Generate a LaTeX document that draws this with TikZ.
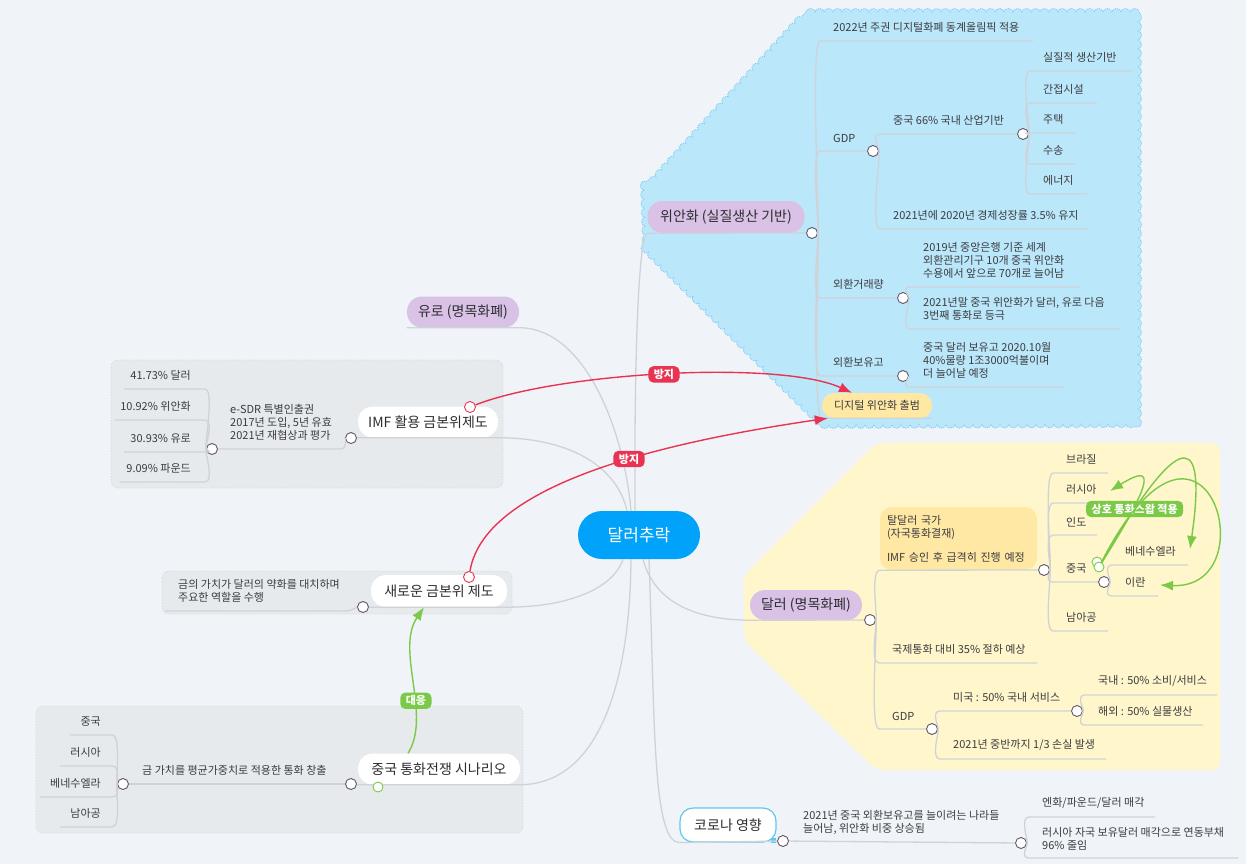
\documentclass[tikz,border=0pt]{standalone}
\usepackage{fontspec}
\setmainfont{Noto Sans CJK KR}
\usetikzlibrary{arrows.meta,decorations.pathmorphing}

\definecolor{bgcol}{RGB}{240,244,248}
\definecolor{hubblue}{RGB}{0,162,250}
\definecolor{lavender}{RGB}{217,194,229}
\definecolor{cloudblue}{RGB}{187,231,250}
\definecolor{cloudedge}{RGB}{125,205,242}
\definecolor{paleyellow}{RGB}{255,246,203}
\definecolor{noteyellow}{RGB}{255,232,163}
\definecolor{boxgray}{RGB}{230,234,237}
\definecolor{linegray}{RGB}{207,211,216}
\definecolor{dotgray}{RGB}{95,85,105}
\definecolor{txtgray}{RGB}{60,60,64}
\definecolor{titlegray}{RGB}{45,45,50}
\definecolor{warnred}{RGB}{232,52,82}
\definecolor{okgreen}{RGB}{122,202,72}
\definecolor{coronaedge}{RGB}{90,200,245}

\begin{document}
\begin{tikzpicture}[x=1pt,y=-1pt,
  branch/.style={draw=linegray,line width=1.3pt},
  dot/.style={circle,draw=dotgray,fill=white,line width=0.9pt,minimum size=11pt,inner sep=0pt},
  rdot/.style={dot,draw=warnred},
  gdot/.style={dot,draw=okgreen,minimum size=10pt},
  leaf/.style={anchor=south west,align=left,inner sep=0pt,text=txtgray,font=\fontsize{11}{13}\selectfont},
  leafr/.style={leaf,anchor=south east,align=right},
  pill/.style={rounded corners=15pt,fill=white,text=titlegray,inner sep=0pt,minimum height=31pt,font=\fontsize{14}{16}\selectfont},
  topic/.style={pill,fill=lavender},
  boxbg/.style={fill=boxgray,draw=linegray,dotted,line width=0.8pt,rounded corners=7pt},
  link/.style={line width=1.4pt,-{Latex[length=13pt,width=10pt]}},
  redlink/.style={link,draw=warnred},
  greenlink/.style={link,draw=okgreen},
  tag/.style={rounded corners=5pt,text=white,inner xsep=5.5pt,inner ysep=3pt,font=\bfseries\fontsize{11}{12}\selectfont}]

\useasboundingbox (0,0) rectangle (1246,864);
\fill[bgcol] (0,0) rectangle (1246,864);

\path[fill=cloudblue,draw=cloudedge,densely dotted,line width=0.9pt,decorate,decoration={bumps,segment length=18pt,amplitude=3.5pt}]
  (806,12) -- (1138,12) -- (1138,424) -- (822,425) -- (646,250) -- (644,190) -- cycle;
\path[fill=paleyellow,rounded corners=8pt] (876,443) -- (1220,443) -- (1220,770) -- (876,770) -- (744,640) -- (744,575) -- cycle;
\path[boxbg] (111,360) rectangle (503,488);
\path[boxbg] (162,571) rectangle (512,614);
\path[boxbg] (36,706) rectangle (523,833);

\node[rounded corners=24pt,fill=hubblue,text=white,minimum width=122pt,minimum height=48pt,inner sep=0pt,font=\fontsize{17}{20}\selectfont] (hub) at (639,535) {달러추락};

\node[topic,minimum width=157pt,minimum height=32pt] (yuan) at (726,217) {위안화 (실질생산 기반)};
\node[topic,minimum width=112pt] (euro) at (463,312) {유로 (명목화폐)};
\node[pill,minimum width=140pt] (imf) at (428,422) {IMF 활용 금본위제도};
\node[pill,minimum width=136pt,minimum height=32pt] (newstd) at (439,591) {새로운 금본위 제도};
\node[pill,minimum width=162pt] (cwar) at (439,769) {중국 통화전쟁 시나리오};
\node[topic,minimum width=112pt,minimum height=30pt] (dollar) at (806,605) {달러 (명목화폐)};
\node[pill,draw=coronaedge,line width=1.2pt,rounded corners=13pt,minimum width=96pt,minimum height=34pt] (corona) at (728,825) {코로나 영향};
\fill[coronaedge] (771,838) rectangle (776,843);
\node[pill,fill=noteyellow,rounded corners=12pt,minimum width=110pt,minimum height=25pt,font=\fontsize{11}{12}\selectfont,text=txtgray] (digital) at (877,405.5) {디지털 위안화 출범};

\draw[branch] ([xshift=-4pt]hub.north) .. controls (634,330) and (640,233) .. (yuan.south west);
\draw[branch] (euro.south west) -- (euro.south east) .. controls (585,328) and (624,430) .. ([xshift=-8pt]hub.north);
\draw[branch] (imf.south west) -- (imf.south east) .. controls (575,438) and (618,470) .. ([xshift=-12pt]hub.north);
\draw[branch] (newstd.south west) -- (newstd.south east) .. controls (575,607) and (615,585) .. ([xshift=-16pt]hub.south);
\draw[branch] (cwar.south west) -- (cwar.south east) .. controls (600,784) and (630,680) .. ([xshift=-8pt]hub.south);
\draw[branch] ([xshift=4pt]hub.south) .. controls (655,605) and (700,620) .. (dollar.south west);
\draw[branch] ([xshift=10pt]hub.south) .. controls (655,720) and (652,842) .. (corona.south west);

\node[dot] (yuanDot) at (812,233) {};
\node[dot] (yGdpDot) at (873,151) {};
\node[dot] (yIndDot) at (1023,134) {};
\node[dot] (yFxDot) at (903,298) {};
\node[dot] (yResDot) at (903,376) {};
\node[dot] (imfDot) at (351,438) {};
\node[dot] (sdrDot) at (212,449) {};
\node[dot] (nsDot) at (363,607) {};
\node[dot] (cwDot) at (351,784) {};
\node[dot] (goldDot) at (123,784) {};
\node[dot] (dollarDot) at (870,620) {};
\node[dot] (dedolDot) at (1044,570) {};
\node[dot] (cnDot) at (1104,582) {};
\node[dot] (dGdpDot) at (932,729) {};
\node[dot] (dUsDot) at (1077,711) {};
\node[dot] (coronaDot) at (783,841) {};
\node[dot] (covDot) at (1021,843) {};

\draw[branch] (yuan.south west) -- (yuanDot);
\draw[branch] (imf.south west) -- (imfDot);
\draw[branch] (newstd.south west) -- (nsDot);
\draw[branch] (cwar.south west) -- (cwDot);
\draw[branch] (dollar.south west) -- (dollarDot);
\draw[branch] (corona.south west) -- (coronaDot);

\node[leaf] (y2022) at (833,33) {2022년 주권 디지털화폐 동계올림픽 적용};
\node[leaf] (yGdp) at (833,143) {GDP};
\node[leaf] (yInd) at (893,126) {중국 66\% 국내 산업기반};
\node[leaf] (yReal) at (1043,63) {실질적 생산기반};
\node[leaf] (yInfra) at (1043,95) {간접시설};
\node[leaf] (yHouse) at (1043,125) {주택};
\node[leaf] (yTrans) at (1043,156) {수송};
\node[leaf] (yEnergy) at (1043,186) {에너지};
\node[leaf] (yGrow) at (893,221) {2021년에 2020년 경제성장률 3.5\% 유지};
\node[leaf] (yFx) at (833,290) {외환거래량};
\node[leaf] (yFx1) at (923,279) {2019년 중앙은행 기준 세계\\외환관리기구 10개 중국 위안화\\수용에서 앞으로 70개로 늘어남};
\node[leaf] (yFx2) at (923,321) {2021년말 중국 위안화가 달러, 유로 다음\\3번째 통화로 등극};
\node[leaf] (yRes) at (833,368) {외환보유고};
\node[leaf] (yRes1) at (923,379) {중국 달러 보유고 2020.10월\\40\%물량 1조3000억불이며\\더 늘어날 예정};

\draw[branch] (yuanDot) .. controls +(8,0) and +(-10,0) .. ([xshift=-13pt,yshift=-8pt]y2022.south west) -- ++(213,0);
\draw[branch] (yuanDot) .. controls +(8,0) and +(-10,0) .. ([xshift=-13pt,yshift=-8pt]yGdp.south west) -- (yGdpDot);
\draw[branch] (yuanDot) .. controls +(8,0) and +(-10,0) .. ([xshift=-13pt,yshift=-8pt]yFx.south west) -- (yFxDot);
\draw[branch] (yuanDot) .. controls +(8,0) and +(-10,0) .. ([xshift=-13pt,yshift=-8pt]yRes.south west) -- (yResDot);
\draw[branch] (yuanDot) .. controls +(8,0) and +(-10,0) .. (digital.south west) -- (digital.south east);
\draw[branch] (yGdpDot) .. controls +(8,0) and +(-10,0) .. ([xshift=-13pt,yshift=-8pt]yInd.south west) -- (yIndDot);
\draw[branch] (yGdpDot) .. controls +(8,0) and +(-10,0) .. ([xshift=-13pt,yshift=-8pt]yGrow.south west) -- ++(208,0);
\draw[branch] (yIndDot) .. controls +(8,0) and +(-10,0) .. ([xshift=-13pt,yshift=-8pt]yReal.south west) -- ++(102,0);
\draw[branch] (yIndDot) .. controls +(8,0) and +(-10,0) .. ([xshift=-13pt,yshift=-8pt]yInfra.south west) -- ++(67,0);
\draw[branch] (yIndDot) .. controls +(8,0) and +(-10,0) .. ([xshift=-13pt,yshift=-8pt]yHouse.south west) -- ++(46,0);
\draw[branch] (yIndDot) .. controls +(8,0) and +(-10,0) .. ([xshift=-13pt,yshift=-8pt]yTrans.south west) -- ++(46,0);
\draw[branch] (yIndDot) .. controls +(8,0) and +(-10,0) .. ([xshift=-13pt,yshift=-8pt]yEnergy.south west) -- ++(57,0);
\draw[branch] (yFxDot) .. controls +(8,0) and +(-10,0) .. ([xshift=-13pt,yshift=-8pt]yFx1.south west) -- ++(169,0);
\draw[branch] (yFxDot) .. controls +(8,0) and +(-10,0) .. ([xshift=-13pt,yshift=-8pt]yFx2.south west) -- ++(210,0);
\draw[branch] (yResDot) .. controls +(8,0) and +(-10,0) .. ([xshift=-13pt,yshift=-8pt]yRes1.south west) -- ++(153,0);

\node[leaf] (sdr) at (230,441) {e-SDR 특별인출권\\2017년 도입, 5년 유효\\2021년 재협상과 평가};
\node[leafr] (i1) at (191,381) {41.73\% 달러};
\node[leafr] (i2) at (191,412) {10.92\% 위안화};
\node[leafr] (i3) at (191,444) {30.93\% 유로};
\node[leafr] (i4) at (191,474) {9.09\% 파운드};
\draw[branch] (imfDot) .. controls +(-6,0) and +(8,0) .. ([xshift=8pt,yshift=-8pt]sdr.south east) -- (sdrDot);
\draw[branch] (sdrDot) .. controls +(-8,0) and +(10,0) .. ([xshift=14pt,yshift=-8pt]i1.south east) -- ++(-81,0);
\draw[branch] (sdrDot) .. controls +(-8,0) and +(10,0) .. ([xshift=14pt,yshift=-8pt]i2.south east) -- ++(-90,0);
\draw[branch] (sdrDot) .. controls +(-8,0) and +(10,0) .. ([xshift=14pt,yshift=-8pt]i3.south east) -- ++(-81,0);
\draw[branch] (sdrDot) .. controls +(-8,0) and +(10,0) .. ([xshift=14pt,yshift=-8pt]i4.south east) -- ++(-85,0);

\node[leaf] (gnote) at (178,603) {금의 가치가 달러의 약화를 대치하며\\주요한 역할을 수행};
\draw[branch] (nsDot) .. controls +(-6,0) and +(8,0) .. ([xshift=4pt,yshift=-8pt]gnote.south east) -- ([xshift=-13pt,yshift=-8pt]gnote.south west);

\node[leaf] (gold) at (142,776) {금 가치를 평균가중치로 적용한 통화 창출};
\draw[branch] (cwDot) -- (goldDot);
\node[leafr] (c1) at (101,727) {중국};
\node[leafr] (c2) at (101,758) {러시아};
\node[leafr] (c3) at (101,789) {베네수엘라};
\node[leafr] (c4) at (101,819) {남아공};
\draw[branch] (goldDot) .. controls +(-8,0) and +(10,0) .. ([xshift=11pt,yshift=-8pt]c1.south east) -- ++(-42,0);
\draw[branch] (goldDot) .. controls +(-8,0) and +(10,0) .. ([xshift=11pt,yshift=-8pt]c2.south east) -- ++(-52,0);
\draw[branch] (goldDot) .. controls +(-8,0) and +(10,0) .. ([xshift=11pt,yshift=-8pt]c3.south east) -- ++(-72,0);
\draw[branch] (goldDot) .. controls +(-8,0) and +(10,0) .. ([xshift=11pt,yshift=-8pt]c4.south east) -- ++(-52,0);

\node[fill=noteyellow,rounded corners=12pt,minimum width=157pt,minimum height=63pt,text width=143pt,inner xsep=7pt,align=left,text=txtgray,font=\fontsize{11}{13}\selectfont] (dedol) at (958.5,538.5) {탈달러 국가\\(자국통화결재)\\[11pt]IMF 승인 후 급격히 진행 예정};
\node[leaf] (d35) at (892,655) {국제통화 대비 35\% 절하 예상};
\node[leaf] (dGdp) at (892,721) {GDP};
\node[leaf] (dUs) at (953,703) {미국 : 50\% 국내 서비스};
\node[leaf] (dLoss) at (953,751) {2021년 중반까지 1/3 손실 발생};
\node[leaf] (dUs1) at (1098,687) {국내 : 50\% 소비/서비스};
\node[leaf] (dUs2) at (1098,717) {해외 : 50\% 실물생산};
\node[leaf] (dBr) at (1066,465) {브라질};
\node[leaf] (dRu) at (1066,495) {러시아};
\node[leaf] (dIn) at (1066,527) {인도};
\node[leaf] (dCn) at (1066,574) {중국};
\node[leaf] (dZa) at (1066,623) {남아공};
\node[leaf] (dVe) at (1125,557) {베네수엘라};
\node[leaf] (dIr) at (1125,588) {이란};

\draw[branch] (dollarDot) .. controls +(8,0) and +(-10,0) .. (dedol.south west) -- (dedolDot);
\draw[branch] (dollarDot) .. controls +(8,0) and +(-10,0) .. ([xshift=-13pt,yshift=-8pt]d35.south west) -- ++(158,0);
\draw[branch] (dollarDot) .. controls +(8,0) and +(-10,0) .. ([xshift=-13pt,yshift=-8pt]dGdp.south west) -- (dGdpDot);
\draw[branch] (dGdpDot) .. controls +(8,0) and +(-10,0) .. ([xshift=-13pt,yshift=-8pt]dUs.south west) -- (dUsDot);
\draw[branch] (dGdpDot) .. controls +(8,0) and +(-10,0) .. ([xshift=-13pt,yshift=-8pt]dLoss.south west) -- ++(166,0);
\draw[branch] (dUsDot) .. controls +(8,0) and +(-10,0) .. ([xshift=-13pt,yshift=-8pt]dUs1.south west) -- ++(132,0);
\draw[branch] (dUsDot) .. controls +(8,0) and +(-10,0) .. ([xshift=-13pt,yshift=-8pt]dUs2.south west) -- ++(118,0);
\draw[branch] (dedolDot) .. controls +(8,0) and +(-10,0) .. ([xshift=-13pt,yshift=-8pt]dBr.south west) -- ++(55,0);
\draw[branch] (dedolDot) .. controls +(8,0) and +(-10,0) .. ([xshift=-13pt,yshift=-8pt]dRu.south west) -- ++(47,0);
\draw[branch] (dedolDot) .. controls +(8,0) and +(-10,0) .. ([xshift=-13pt,yshift=-8pt]dIn.south west) -- ++(44,0);
\draw[branch] (dedolDot) .. controls +(8,0) and +(-10,0) .. ([xshift=-13pt,yshift=-8pt]dCn.south west) -- (cnDot);
\draw[branch] (dedolDot) .. controls +(8,0) and +(-10,0) .. ([xshift=-13pt,yshift=-8pt]dZa.south west) -- ++(55,0);
\draw[branch] (cnDot) .. controls +(8,0) and +(-10,0) .. ([xshift=-13pt,yshift=-8pt]dVe.south west) -- ++(76,0);
\draw[branch] (cnDot) .. controls +(8,0) and +(-10,0) .. ([xshift=-13pt,yshift=-8pt]dIr.south west) -- ++(46,0);

\node[leaf] (cov) at (803,835) {2021년 중국 외환보유고를 늘이려는 나라들\\늘어남, 위안화 비중 상승됨};
\node[leaf] (cov1) at (1042,809) {엔화/파운드/달러 매각};
\node[leaf] (cov2) at (1042,850) {러시아 자국 보유달러 매각으로 연동부채\\96\% 줄임};
\draw[branch] (coronaDot) -- (covDot);
\draw[branch] (covDot) .. controls +(8,0) and +(-10,0) .. ([xshift=-13pt,yshift=-8pt]cov1.south west) -- ++(126,0);
\draw[branch] (covDot) .. controls +(8,0) and +(-10,0) .. ([xshift=-13pt,yshift=-8pt]cov2.south west) -- ++(209,0);

\node[rdot] (rc1) at (470,407) {};
\node[rdot] (rc2) at (469,577) {};
\draw[redlink] (rc1) .. controls (560,372) and (780,360) .. ([xshift=-25pt]digital.north)
  node[pos=0.49,tag,fill=warnred] (stop1) {방지};
\draw[redlink] (rc2) .. controls (485,480) and (680,440) .. ([xshift=6pt]digital.south west)
  node[pos=0.57,tag,fill=warnred] (stop2) {방지};

\node[gdot] (cwLink) at (378,787) {};
\draw[greenlink] ([xshift=-31pt]cwar.north) .. controls (432,715) and (395,650) .. ([xshift=-15pt]newstd.south)
  node[pos=0.38,tag,fill=okgreen] (reply) {대응};

\node[gdot] (cnLink2) at (1097,562) {};
\node[gdot] (cnLink) at (1099,567) {};
\draw[greenlink] (cnLink) .. controls (1160,470) and (1150,466) .. (1110,491);
\draw[greenlink] (cnLink) .. controls (1190,410) and (1205,445) .. (1190,549)
  node[pos=0.14,tag,fill=okgreen] (swap) {상호 통화스왑 적용};
\draw[greenlink] (cnLink) .. controls (1205,360) and (1270,590) .. (1160,585);

\end{tikzpicture}
\end{document}
